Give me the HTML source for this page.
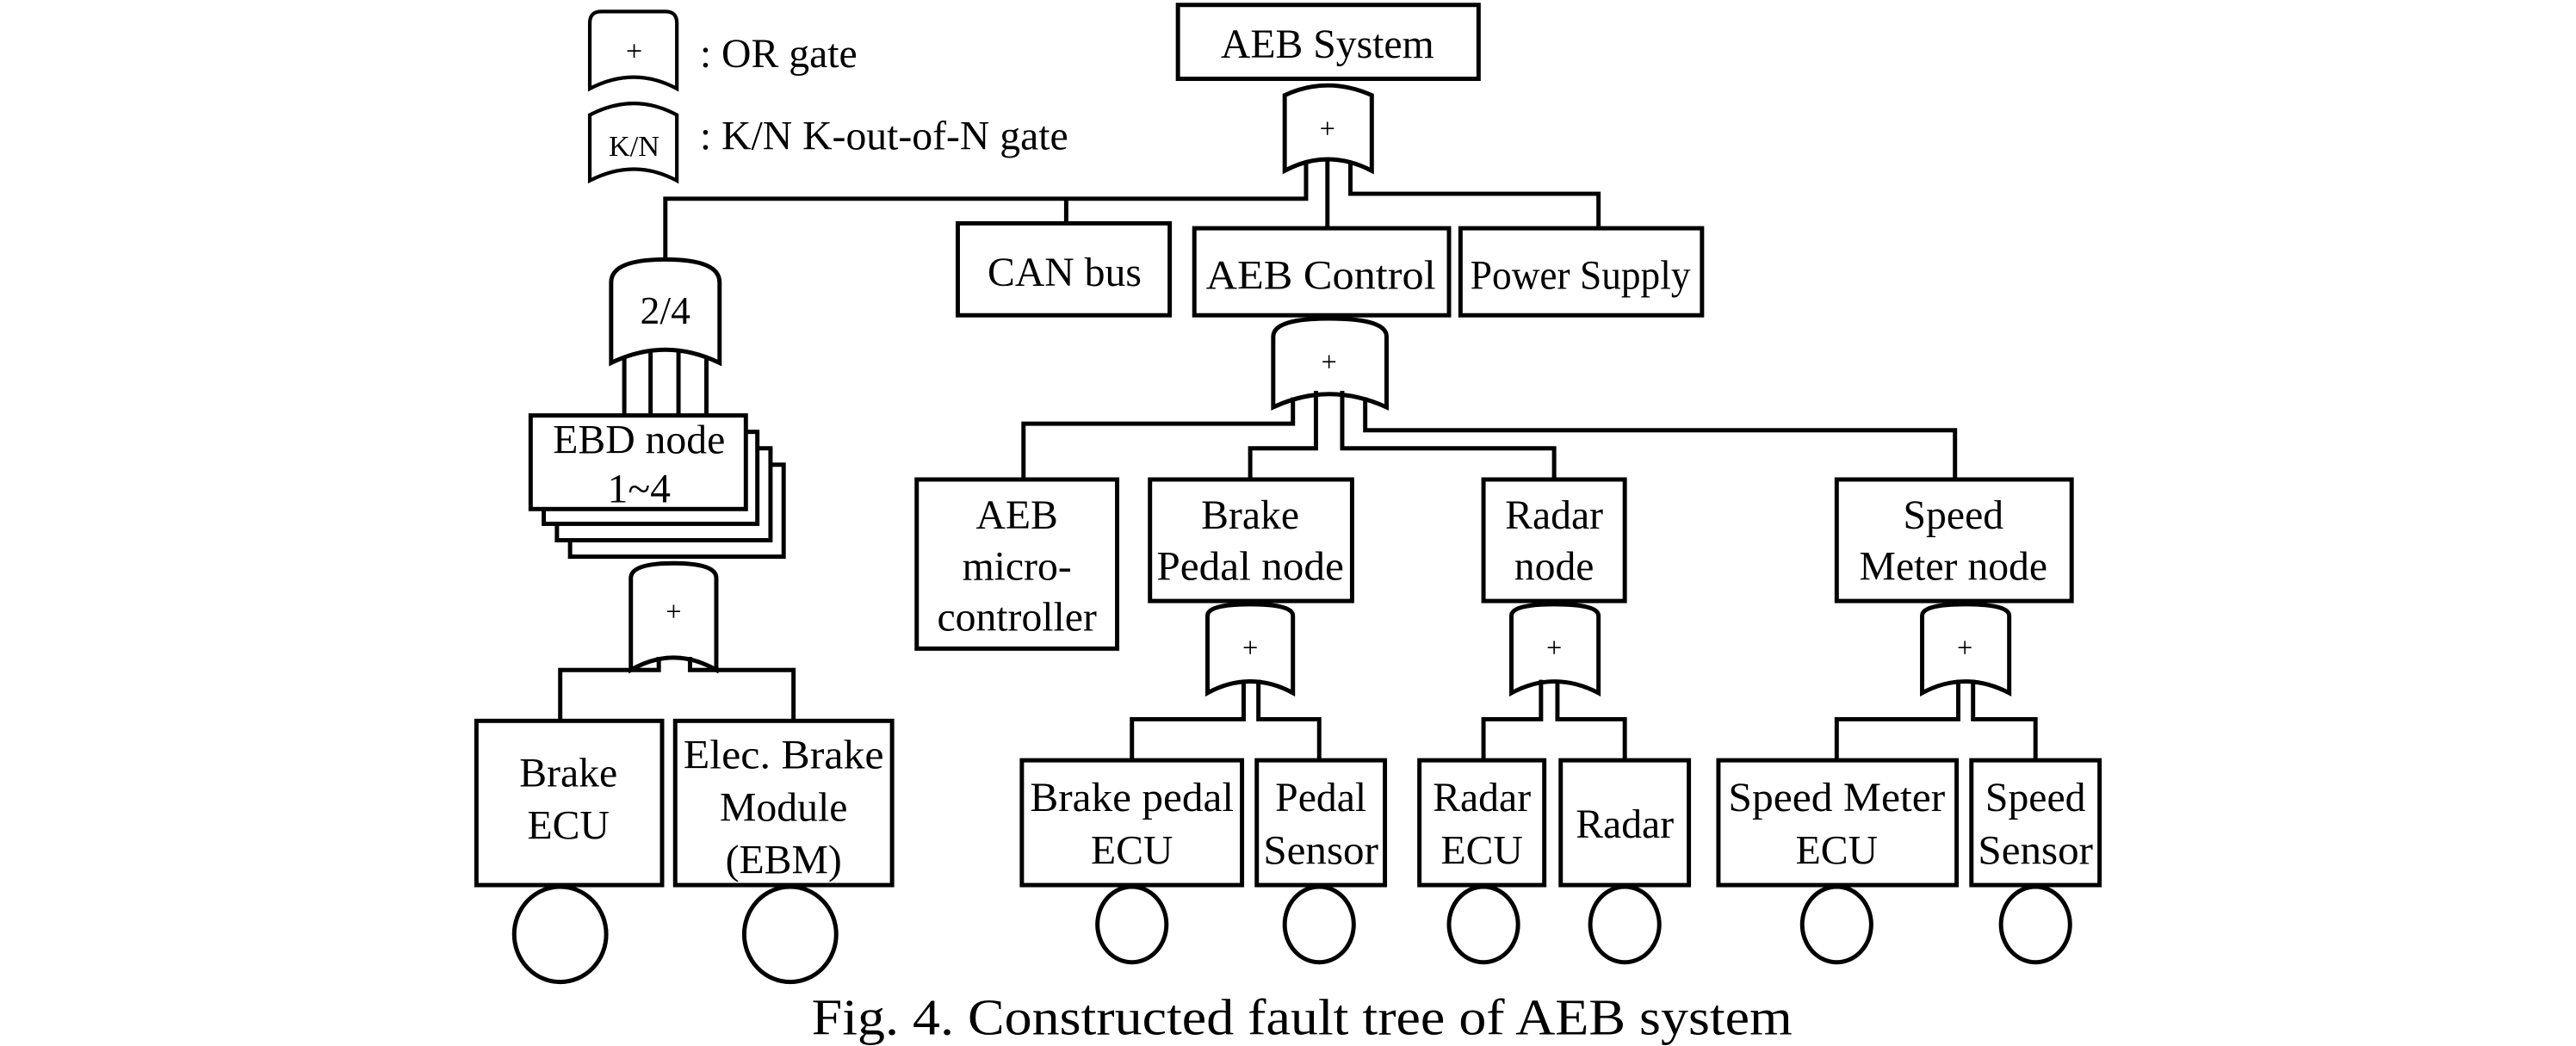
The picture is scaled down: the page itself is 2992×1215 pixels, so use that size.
<!DOCTYPE html>
<html><head><meta charset="utf-8"><style>
html,body{margin:0;padding:0;background:#fff;}
svg{display:block;}
text{font-family:"Liberation Serif",serif;fill:#000;}
</style></head><body>
<svg width="2992" height="1215" viewBox="0 0 1568 637" preserveAspectRatio="none" xmlns="http://www.w3.org/2000/svg">
<g fill="none" stroke="#000" stroke-width="2.6">
<path d="M359,54 L359,14 Q359,7 366,7 L405,7 Q412,7 412,14 L412,54 Q386,40 359,54 Z" stroke-width="2.2"/>
<path d="M359,110 L359,70 Q386,56 412,70 L412,110 Q386,96 359,110 Z" stroke-width="2.2"/>
<rect x="717" y="3" width="183" height="45"/>
<path d="M782,104 L782,58 Q808,46 835,58 L835,104 Q808,90 782,104 Z"/>
<polyline points="795,99 795,121 405,121 405,158"/>
<line x1="808" y1="97" x2="808" y2="139"/>
<polyline points="822,99 822,118 973,118 973,139"/>
<line x1="649" y1="121" x2="649" y2="136"/>
<rect x="583" y="136" width="129" height="56"/>
<rect x="727" y="139" width="155" height="53"/>
<rect x="889" y="139" width="147" height="53"/>
<path d="M372,221 L372,172 Q372,158 405,158 Q438,158 438,172 L438,221 Q405,205 372,221 Z"/>
<line x1="380" y1="217" x2="380" y2="253"/>
<line x1="396" y1="214" x2="396" y2="253"/>
<line x1="413" y1="214" x2="413" y2="253"/>
<line x1="430" y1="217" x2="430" y2="253"/>
<rect x="347" y="283" width="130" height="56" fill="#fff"/>
<rect x="339" y="273" width="130" height="56" fill="#fff"/>
<rect x="331" y="263" width="130" height="56" fill="#fff"/>
<rect x="323" y="253" width="131" height="57" fill="#fff"/>
<path d="M384,408 L384,352 Q384,343 410,343 Q436,343 436,352 L436,408 Q410,393 384,408 Z"/>
<polyline points="401,400 401,408 341,408 341,439"/>
<polyline points="420,400 420,408 483,408 483,439"/>
<rect x="290" y="439" width="113" height="100"/>
<rect x="411" y="439" width="132" height="100"/>
<ellipse cx="341" cy="569" rx="28" ry="29"/>
<ellipse cx="481" cy="569" rx="28" ry="29"/>
<path d="M775,248 L775,205 Q775,194 809,194 Q844,194 844,205 L844,248 Q809,232 775,248 Z"/>
<polyline points="787,242 787,258 623,258 623,292"/>
<polyline points="801,238 801,273 761,273 761,292"/>
<polyline points="817,238 817,273 946,273 946,292"/>
<polyline points="831,242 831,262 1190,262 1190,292"/>
<rect x="558" y="292" width="122" height="103"/>
<rect x="700" y="292" width="123" height="74"/>
<rect x="903" y="292" width="86" height="74"/>
<rect x="1118" y="292" width="143" height="74"/>
<path d="M735,422 L735,375 Q735,368 761,368 Q787,368 787,375 L787,422 Q761,408 735,422 Z"/>
<path d="M920,422 L920,375 Q920,368 946,368 Q973,368 973,375 L973,422 Q946,408 920,422 Z"/>
<path d="M1170,422 L1170,375 Q1170,368 1196,368 Q1223,368 1223,375 L1223,422 Q1196,408 1170,422 Z"/>
<polyline points="757,414 757,438 689,438 689,463"/>
<polyline points="766,414 766,438 803,438 803,463"/>
<polyline points="938,414 938,438 903,438 903,463"/>
<polyline points="948,414 948,438 989,438 989,463"/>
<polyline points="1192,414 1192,438 1118,438 1118,463"/>
<polyline points="1201,414 1201,438 1239,438 1239,463"/>
<rect x="622" y="463" width="134" height="76"/>
<rect x="765" y="463" width="78" height="76"/>
<rect x="864" y="463" width="76" height="76"/>
<rect x="950" y="463" width="78" height="76"/>
<rect x="1046" y="463" width="145" height="76"/>
<rect x="1200" y="463" width="78" height="76"/>
<ellipse cx="689" cy="563" rx="21" ry="23"/>
<ellipse cx="803" cy="563" rx="21" ry="23"/>
<ellipse cx="903" cy="563" rx="21" ry="23"/>
<ellipse cx="989" cy="563" rx="21" ry="23"/>
<ellipse cx="1118" cy="563" rx="21" ry="23"/>
<ellipse cx="1239" cy="563" rx="21" ry="23"/>
</g>
<g font-size="17" fill="#555" text-anchor="middle">
<text x="386" y="37" font-size="18">+</text>
<text x="386" y="95" font-size="18">K/N</text>
<text x="808" y="84">+</text>
<text x="809" y="226">+</text>
<text x="410" y="378">+</text>
<text x="761" y="400">+</text>
<text x="946" y="400">+</text>
<text x="1196" y="400">+</text>
</g>
<g font-size="25" text-anchor="middle">
<text x="426" y="41" text-anchor="start">: OR gate</text>
<text x="426" y="91" text-anchor="start">: K/N K-out-of-N gate</text>
<text x="808" y="35">AEB System</text>
<text x="648" y="174">CAN bus</text>
<text x="804" y="176" textLength="140" lengthAdjust="spacingAndGlyphs">AEB Control</text>
<text x="962" y="176" textLength="134" lengthAdjust="spacingAndGlyphs">Power Supply</text>
<text x="405" y="197" font-size="24">2/4</text>
<text x="389" y="276">EBD node</text>
<text x="389" y="306">1~4</text>
<text x="346" y="479">Brake</text>
<text x="346" y="511">ECU</text>
<text x="477" y="468" textLength="122" lengthAdjust="spacingAndGlyphs">Elec. Brake</text>
<text x="477" y="500">Module</text>
<text x="477" y="532">(EBM)</text>
<text x="619" y="322">AEB</text>
<text x="619" y="353">micro-</text>
<text x="619" y="384">controller</text>
<text x="761" y="322">Brake</text>
<text x="761" y="353" textLength="114" lengthAdjust="spacingAndGlyphs">Pedal node</text>
<text x="946" y="322">Radar</text>
<text x="946" y="353">node</text>
<text x="1189" y="322">Speed</text>
<text x="1189" y="353">Meter node</text>
<text x="689" y="494" textLength="124" lengthAdjust="spacingAndGlyphs">Brake pedal</text>
<text x="689" y="526">ECU</text>
<text x="804" y="494">Pedal</text>
<text x="804" y="526" textLength="70" lengthAdjust="spacingAndGlyphs">Sensor</text>
<text x="902" y="494">Radar</text>
<text x="902" y="526">ECU</text>
<text x="989" y="510">Radar</text>
<text x="1118" y="494" textLength="132" lengthAdjust="spacingAndGlyphs">Speed Meter</text>
<text x="1118" y="526">ECU</text>
<text x="1239" y="494">Speed</text>
<text x="1239" y="526" textLength="70" lengthAdjust="spacingAndGlyphs">Sensor</text>
</g>
<text x="494" y="630" font-size="31" textLength="597" lengthAdjust="spacingAndGlyphs">Fig. 4. Constructed fault tree of AEB system</text>
</svg>
</body></html>
